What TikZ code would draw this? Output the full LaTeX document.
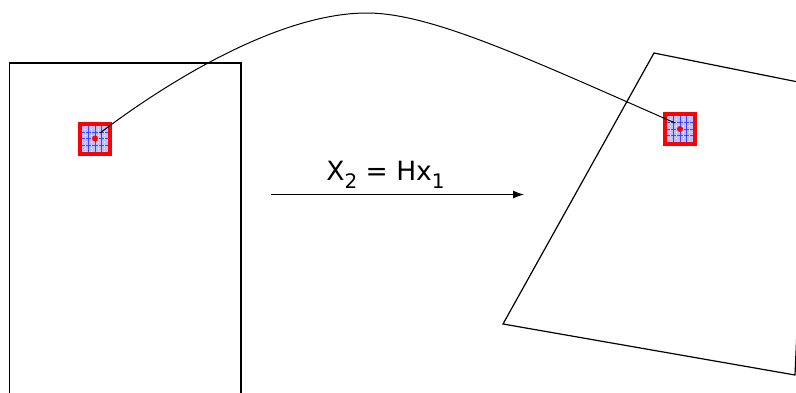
\documentclass[tikz,border=0pt]{standalone}
\usepackage{fontspec}
\setmainfont{DejaVu Sans}
\usetikzlibrary{arrows.meta}
\tikzset{
  frameline/.style={draw=black, line width=1.2pt, line join=miter},
  patch/.style={draw=red, line width=4pt, fill=blue!25, minimum size=30pt, inner sep=0pt, outer sep=0pt},
  gridline/.style={draw=blue!75, line width=0.6pt},
  dotline/.style={draw=white, line width=0.7pt, dash pattern=on 0.7pt off 2.5pt},
  link/.style={draw=black, line width=1pt},
  maparrow/.style={draw=black, line width=1pt, -{Latex[length=11pt,width=8pt]}},
  reddot/.style={circle, fill=red, minimum size=6pt, inner sep=0pt},
}
\newcommand\patchgrid[1]{%
  \begin{scope}[shift={(#1.center)}]
    \foreach \d in {-6.5,0,6.5} {
      \draw[gridline] (\d,-13) -- (\d,13);
      \draw[gridline] (-13,\d) -- (13,\d);
    }
    \foreach \d in {-9.75,-3.25,3.25,9.75} {
      \draw[dotline] (\d,-13) -- (\d,13);
    }
  \end{scope}}
\begin{document}
\begin{tikzpicture}[x=1pt,y=-1pt]
\useasboundingbox (0,0) rectangle (796,392);
\clip (0,0) rectangle (796,392);
% left image frame
\draw[frameline] (9.5,400) -- (9.5,63) -- (241,63) -- (241,400);
% right warped frame
\draw[frameline] (654,53) -- (808,84) -- (795,375) -- (503,324) -- cycle;
% patches
\node[patch] (s1) at (95,138.5) {};
\patchgrid{s1}
\draw[draw=red, line width=4pt] (s1.south west) rectangle (s1.north east);
\node[reddot] (d1) at (s1.center) {};
\node[patch] (s2) at (680,129) {};
\patchgrid{s2}
\draw[draw=red, line width=4pt] (s2.south west) rectangle (s2.north east);
\node[reddot] (d2) at (s2.center) {};
% connecting curve
\coordinate (e1) at (100,133);
\coordinate (top) at (367,13);
\coordinate (e2) at (675,123);
\draw[link] (e1) .. controls (170,80) and (280,13) .. (top)
  .. controls (430,13) and (525,57) .. (e2);
% mapping arrow
\coordinate (a1) at (271,194.5);
\coordinate (a2) at (524,194.5);
\draw[maparrow] (a1) -- (a2);
\node[anchor=base, inner sep=0pt, font=\fontsize{26.5}{30}\selectfont] (lbl) at (385.5,180)
  {X\raisebox{-8pt}{\fontsize{20}{22}\selectfont 2} = Hx\raisebox{-8pt}{\fontsize{20}{22}\selectfont 1}};
\end{tikzpicture}
\end{document}
